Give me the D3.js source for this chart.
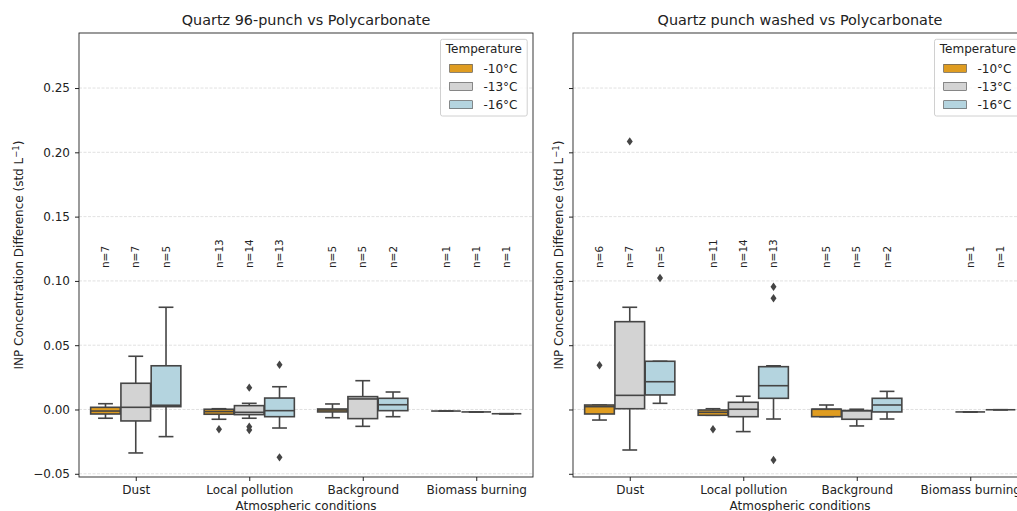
<!DOCTYPE html>
<html>
<head>
<meta charset="UTF-8">
<title>INP concentration difference</title>
<style>
  body { margin: 0; background: #fff; }
  svg { display: block; font-family: "DejaVu Sans", sans-serif; }
</style>
</head>
<body>
<div id="chart"></div>
<script src="https://cdn.jsdelivr.net/npm/d3@7"></script>
<script>
var conditions = ["Dust", "Local pollution", "Background", "Biomass burning"];
var temperatures = ["-10°C", "-13°C", "-16°C"];
var colors = ["#df9c20", "#d3d3d3", "#b4d4df"];
var yTicks = [-0.05, 0, 0.05, 0.10, 0.15, 0.20, 0.25];

// [lower whisker, q1, median, q3, upper whisker] for each condition x temperature
var punch96Boxes = [
    [[-0.0068, -0.0035, -0.0012, 0.0017, 0.0045], [-0.0338, -0.0089, 0.0017, 0.0204, 0.0414], [-0.0211, 0.0022, 0.0033, 0.0340, 0.0795]],
    [[-0.0076, -0.0037, -0.0016, 0.0002, 0.0006], [-0.0068, -0.0040, -0.0022, 0.0030, 0.0048], [-0.0144, -0.0056, -0.0009, 0.0089, 0.0177]],
    [[-0.0064, -0.0019, -0.0004, 0.0004, 0.0043], [-0.0131, -0.0071, 0.0082, 0.0100, 0.0224], [-0.0056, -0.0009, 0.0037, 0.0087, 0.0136]],
    [[-0.0012, -0.0012, -0.0012, -0.0012, -0.0012], [-0.0019, -0.0019, -0.0019, -0.0019, -0.0019], [-0.0033, -0.0033, -0.0033, -0.0033, -0.0033]]
];
var punch96Outliers = [
    [[], [], []],
    [[-0.0154], [0.0170, -0.0134, -0.0160], [0.0348, -0.0372]],
    [[], [], []],
    [[], [], []]
];
var punch96Counts = [[7, 7, 5], [13, 14, 13], [5, 5, 2], [1, 1, 1]];

var washedBoxes = [
    [[-0.0082, -0.0035, 0.0022, 0.0035, 0.0035], [-0.0315, 0.0006, 0.0110, 0.0683, 0.0795], [0.0048, 0.0113, 0.0216, 0.0375, 0.0375]],
    [[-0.0045, -0.0045, -0.0022, -0.0004, 0.0006], [-0.0172, -0.0056, 0.0002, 0.0056, 0.0103], [-0.0074, 0.0087, 0.0185, 0.0333, 0.0340]],
    [[-0.0056, -0.0056, 0.0002, 0.0002, 0.0035], [-0.0128, -0.0076, -0.0009, -0.0009, 0.0002], [-0.0074, -0.0019, 0.0035, 0.0087, 0.0141]],
    [null, [-0.0019, -0.0019, -0.0019, -0.0019, -0.0019], [-0.0002, -0.0002, -0.0002, -0.0002, -0.0002]]
];
var washedOutliers = [
    [[0.0344], [0.2085], [0.1023]],
    [[-0.0154], [], [0.0955, 0.0865, -0.0393]],
    [[], [], []],
    [[], [], []]
];
var washedCounts = [[6, 7, 5], [11, 14, 13], [5, 5, 2], [0, 1, 1]];

var width = 1017, height = 511;
var axW = 454, axH = 444, axTop = 33;
var gray = "#454545";

var svg = d3.select("#chart").append("svg")
    .attr("width", width)
    .attr("height", height);

var y = d3.scaleLinear().domain([-0.0525, 0.2928]).range([axH, 0]);
var x = d3.scalePoint().domain(conditions).range([0, axW]).padding(0.5);
var step = x.step();
var hueW = step * 0.8 / temperatures.length;
var boxW = hueW * 0.98;

function drawPanel(left, title, boxes, outliers, counts, showTickLabels, ylabelX) {
    var g = svg.append("g").attr("transform", "translate(" + left + "," + axTop + ")");

    // grid
    g.append("g").selectAll("line")
        .data(yTicks)
        .join("line")
        .attr("x1", 0).attr("x2", axW)
        .attr("y1", d => y(d)).attr("y2", d => y(d))
        .attr("stroke", "#d9d9d9")
        .attr("stroke-width", 0.8)
        .attr("stroke-dasharray", "3,1.5");

    // boxes
    var items = [];
    boxes.forEach(function(row, ci) {
        row.forEach(function(s, ti) {
            if (!s) return;
            items.push({ ci: ci, ti: ti, s: s, cx: x(conditions[ci]) + (ti - 1) * hueW });
        });
    });
    var bg = g.append("g").selectAll("g")
        .data(items)
        .join("g")
        .attr("stroke", gray)
        .attr("stroke-width", 1.6);
    bg.append("line")
        .attr("x1", d => d.cx).attr("x2", d => d.cx)
        .attr("y1", d => y(d.s[1])).attr("y2", d => y(d.s[0]));
    bg.append("line")
        .attr("x1", d => d.cx).attr("x2", d => d.cx)
        .attr("y1", d => y(d.s[3])).attr("y2", d => y(d.s[4]));
    bg.append("line")
        .attr("x1", d => d.cx - boxW / 4).attr("x2", d => d.cx + boxW / 4)
        .attr("y1", d => y(d.s[0])).attr("y2", d => y(d.s[0]));
    bg.append("line")
        .attr("x1", d => d.cx - boxW / 4).attr("x2", d => d.cx + boxW / 4)
        .attr("y1", d => y(d.s[4])).attr("y2", d => y(d.s[4]));
    bg.append("rect")
        .attr("x", d => d.cx - boxW / 2)
        .attr("width", boxW)
        .attr("y", d => y(d.s[3]))
        .attr("height", d => y(d.s[1]) - y(d.s[3]))
        .attr("fill", d => colors[d.ti]);
    bg.append("line")
        .attr("x1", d => d.cx - boxW / 2).attr("x2", d => d.cx + boxW / 2)
        .attr("y1", d => y(d.s[2])).attr("y2", d => y(d.s[2]));

    // outliers
    var pts = [];
    outliers.forEach(function(row, ci) {
        row.forEach(function(vals, ti) {
            vals.forEach(function(v) {
                pts.push({ cx: x(conditions[ci]) + (ti - 1) * hueW, v: v });
            });
        });
    });
    g.append("g").selectAll("path")
        .data(pts)
        .join("path")
        .attr("d", d => "M" + d.cx + "," + (y(d.v) - 4.2) + "L" + (d.cx + 3) + "," + y(d.v) +
            "L" + d.cx + "," + (y(d.v) + 4.2) + "L" + (d.cx - 3) + "," + y(d.v) + "Z")
        .attr("fill", gray);

    // n labels
    var labels = [];
    counts.forEach(function(row, ci) {
        row.forEach(function(n, ti) {
            if (n > 0) labels.push({ cx: x(conditions[ci]) + (ti - 1) * hueW, n: n });
        });
    });
    g.append("g").selectAll("text")
        .data(labels)
        .join("text")
        .attr("transform", d => "translate(" + d.cx + "," + y(0.11) + ") rotate(-90)")
        .attr("dy", "0.35em")
        .attr("font-size", "10.5px")
        .attr("fill", "#222")
        .text(d => "n=" + d.n);

    // axes
    var yAxis = d3.axisLeft(y).tickValues(yTicks).tickSize(4).tickPadding(5)
        .tickFormat(showTickLabels ? d3.format(".2f") : "");
    var ya = g.append("g").call(yAxis);
    ya.select(".domain").remove();
    ya.selectAll("line").attr("stroke", "#222");
    ya.selectAll("text").attr("font-size", "12px").attr("fill", "#222").attr("font-family", "DejaVu Sans");

    var xAxis = d3.axisBottom(x).tickSize(4).tickPadding(4);
    var xa = g.append("g").attr("transform", "translate(0," + axH + ")").call(xAxis);
    xa.select(".domain").remove();
    xa.selectAll("line").attr("stroke", "#222");
    xa.selectAll("text").attr("font-size", "12px").attr("fill", "#222").attr("font-family", "DejaVu Sans");

    g.append("rect")
        .attr("width", axW).attr("height", axH)
        .attr("fill", "none")
        .attr("stroke", "#222")
        .attr("stroke-width", 0.9);

    g.append("text")
        .attr("x", axW / 2).attr("y", -8)
        .attr("text-anchor", "middle")
        .attr("font-size", "14.4px")
        .attr("fill", "#222")
        .text(title);

    g.append("text")
        .attr("x", axW / 2).attr("y", axH + 32.5)
        .attr("text-anchor", "middle")
        .attr("font-size", "12px")
        .attr("fill", "#222")
        .text("Atmospheric conditions");

    var yl = g.append("text")
        .attr("transform", "translate(" + ylabelX + "," + (axH / 2) + ") rotate(-90)")
        .attr("dy", "0.35em")
        .attr("text-anchor", "middle")
        .attr("font-size", "12px")
        .attr("fill", "#222");
    yl.append("tspan").text("INP Concentration Difference (std L");
    yl.append("tspan").attr("font-size", "8.5px").attr("dy", "-0.55em").text("−1");
    yl.append("tspan").attr("dy", "0.4em").text(")");

    // legend
    var lg = g.append("g").attr("transform", "translate(" + (axW - 92.5) + ",6.3)");
    lg.append("rect")
        .attr("width", 86.7).attr("height", 76.7)
        .attr("rx", 2)
        .attr("fill", "#fff").attr("fill-opacity", 0.8)
        .attr("stroke", "#d0d0d0");
    lg.append("text")
        .attr("x", 43.3).attr("y", 10).attr("dy", "0.35em")
        .attr("text-anchor", "middle")
        .attr("font-size", "12px")
        .attr("fill", "#222")
        .text("Temperature");
    var items2 = lg.selectAll(".item")
        .data(temperatures)
        .join("g")
        .attr("class", "item")
        .attr("transform", (d, i) => "translate(0," + (29 + i * 18.2) + ")");
    items2.append("rect")
        .attr("x", 9.2).attr("y", -4)
        .attr("width", 22.7).attr("height", 8)
        .attr("fill", (d, i) => colors[i])
        .attr("stroke", gray)
        .attr("stroke-width", 0.6);
    items2.append("text")
        .attr("x", 43).attr("dy", "0.35em")
        .attr("font-size", "12px")
        .attr("fill", "#222")
        .text(d => d);
}

drawPanel(79, "Quartz 96-punch vs Polycarbonate", punch96Boxes, punch96Outliers, punch96Counts, true, -60);
drawPanel(573, "Quartz punch washed vs Polycarbonate", washedBoxes, washedOutliers, washedCounts, false, -14);
</script>
</body>
</html>
